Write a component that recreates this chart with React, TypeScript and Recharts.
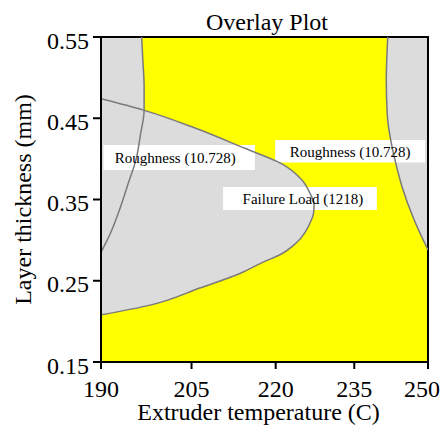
import React from 'react';
import { ComposedChart, Area, Line, XAxis, YAxis, CartesianGrid, ReferenceArea, Label } from 'recharts';

const serif = '"Liberation Serif", "Times New Roman", serif';

// left roughness contour: temperature at each layer thickness
const leftY = [0.55, 0.52, 0.49, 0.46, 0.43, 0.4, 0.37, 0.34, 0.31, 0.285];
const leftX = [196.6, 196.8, 197.0, 197.0, 196.4, 195.7, 194.4, 193.1, 191.6, 190.0];

// failure load contour (1218)
const failY = [0.474, 0.46, 0.438, 0.413, 0.395, 0.374, 0.358, 0.343, 0.333, 0.325, 0.297, 0.282, 0.273, 0.259, 0.241, 0.22, 0.208];
const failX = [190.0, 196.9, 205.6, 214.4, 220.8, 224.9, 226.4, 227.2, 227.1, 226.7, 223.9, 220.8, 217.7, 213.5, 206.4, 198.0, 190.0];

// right roughness contour
const rightY = [0.55, 0.497, 0.454, 0.417, 0.393, 0.366, 0.325, 0.288];
const rightX = [241.7, 241.4, 241.6, 242.5, 243.4, 244.6, 247.1, 250.0];

const xTicks = [190, 205, 220, 235, 250];
const yTicks = [0.15, 0.25, 0.35, 0.45, 0.55];

const pick = (ys: number[], xs: number[], y: number) => {
  const i = ys.indexOf(y);
  return i < 0 ? null : xs[i];
};

const allY = Array.from(new Set([...leftY, ...failY, ...rightY])).sort((a, b) => b - a);
const data = allY.map((y) => {
  const l = pick(leftY, leftX, y);
  const f = pick(failY, failX, y);
  const r = pick(rightY, rightX, y);
  return {
    y,
    left: l,
    fail: f,
    right: r,
    leftBand: l == null ? null : [190, l],
    failBand: f == null ? null : [190, f],
    rightBand: r == null ? null : [r, 250],
  };
});

const labelStyle = { fill: '#000', fontSize: 15, fontFamily: serif };
const gray = '#dcdcdc';
const edge = '#7a7a7a';

export default function App() {
  return (
    <ComposedChart
      width={432}
      height={420}
      data={data}
      layout="vertical"
      margin={{ top: 29, right: 12, bottom: 0, left: 0 }}
    >
      <text x={259} y={22} textAnchor="middle" fontSize={24} fontFamily={serif} fill="#000">
        Overlay Plot
      </text>
      <CartesianGrid horizontal={false} vertical={false} fill="#ffff00" fillOpacity={1} />
      <XAxis
        type="number"
        scale="log"
        domain={[190, 250]}
        ticks={xTicks}
        allowDataOverflow
        height={66}
        tickSize={7}
        tickMargin={11}
        tick={{ fill: '#000', fontSize: 24, fontFamily: serif }}
        tickLine={{ stroke: '#000', strokeWidth: 2 }}
        axisLine={{ stroke: '#000', strokeWidth: 2 }}
      >
        <Label
          value="Extruder temperature (C)"
          position="insideBottom"
          offset={8}
          dx={-6}
          style={{ fill: '#000', fontSize: 24, fontFamily: serif }}
        />
      </XAxis>
      <YAxis
        type="number"
        dataKey="y"
        domain={[0.15, 0.55]}
        ticks={yTicks}
        reversed
        allowDataOverflow
        width={93}
        tickSize={8}
        tickMargin={4}
        tickFormatter={(v: number) => v.toFixed(2)}
        tick={{ fill: '#000', fontSize: 24, fontFamily: serif, dy: 3 }}
        tickLine={{ stroke: '#000', strokeWidth: 2 }}
        axisLine={{ stroke: '#000', strokeWidth: 2 }}
      >
        <Label
          value="Layer thickness (mm)"
          angle={-90}
          position="insideLeft"
          offset={14}
          style={{ fill: '#000', fontSize: 24, fontFamily: serif, textAnchor: 'middle' }}
        />
      </YAxis>

      <Area dataKey="leftBand" type="monotone" fill={gray} fillOpacity={1} stroke="none" connectNulls isAnimationActive={false} />
      <Area dataKey="failBand" type="monotone" fill={gray} fillOpacity={1} stroke="none" connectNulls isAnimationActive={false} />
      <Area dataKey="rightBand" type="monotone" fill={gray} fillOpacity={1} stroke="none" connectNulls isAnimationActive={false} />

      <Line dataKey="left" type="monotone" stroke={edge} strokeWidth={1.5} dot={false} connectNulls isAnimationActive={false} />
      <Line dataKey="fail" type="monotone" stroke={edge} strokeWidth={1.5} dot={false} connectNulls isAnimationActive={false} />
      <Line dataKey="right" type="monotone" stroke={edge} strokeWidth={1.5} dot={false} connectNulls isAnimationActive={false} />

      <ReferenceArea x1={190.4} x2={216.2} y1={0.4171} y2={0.3863} fill="#fff" fillOpacity={1} stroke="none" ifOverflow="visible"
        label={{ value: 'Roughness (10.728)', position: 'center', dx: -4, ...labelStyle }} />
      <ReferenceArea x1={219.9} x2={249.4} y1={0.4232} y2={0.3955} fill="#fff" fillOpacity={1} stroke="none" ifOverflow="visible"
        label={{ value: 'Roughness (10.728)', position: 'center', ...labelStyle }} />
      <ReferenceArea x1={210.5} x2={239.5} y1={0.3654} y2={0.3371} fill="#fff" fillOpacity={1} stroke="none" ifOverflow="visible"
        label={{ value: 'Failure Load (1218)', position: 'center', dx: 3, ...labelStyle }} />

      <ReferenceArea x1={190} x2={250} y1={0.15} y2={0.55} fill="none" stroke="#000" strokeWidth={2} ifOverflow="visible" />
    </ComposedChart>
  );
}
